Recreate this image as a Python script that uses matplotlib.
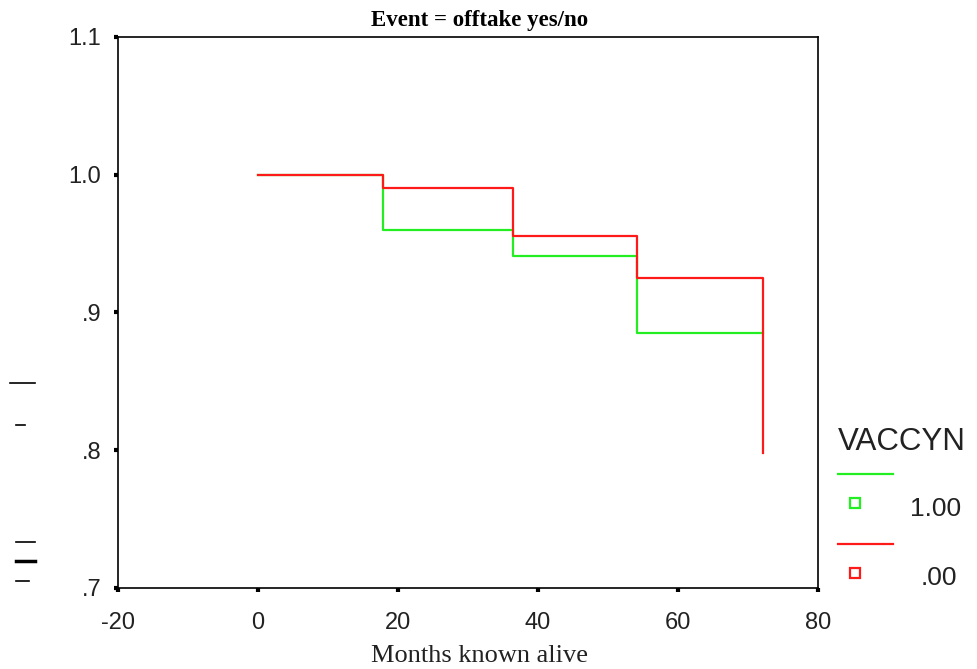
import matplotlib.pyplot as plt
from matplotlib.lines import Line2D

# survival step functions, VACCYN groups
months_1 = [0, 17.9, 36.4, 54.1, 72.1]
surv_1 = [1.0, 0.960, 0.941, 0.885, 0.885]
months_0 = [0, 17.9, 36.4, 54.1, 72.1]
surv_0 = [1.0, 0.9905, 0.9555, 0.925, 0.798]

groups = ["1.00", ".00"]
colors = ["#22ee22", "#ff1a1a"]

xticks = [-20, 0, 20, 40, 60, 80]
yticks = [0.7, 0.8, 0.9, 1.0, 1.1]
ytick_labels = [".7", ".8", ".9", "1.0", "1.1"]

fig = plt.figure(figsize=(9.78, 6.69), dpi=100)
ax = fig.add_axes([0.1207, 0.1211, 0.7157, 0.8236])

ax.plot(months_1, surv_1, drawstyle="steps-post", color=colors[0], lw=1.6)
ax.plot(months_0, surv_0, drawstyle="steps-post", color=colors[1], lw=1.6)

ax.set_xlim(-20, 80)
ax.set_ylim(0.7, 1.1)
ax.set_xticks(xticks)
ax.set_xticklabels([str(t) for t in xticks])
ax.set_yticks(yticks)
ax.set_yticklabels(ytick_labels)
for s in ax.spines.values():
    s.set_linewidth(1.2)
    s.set_color("black")
ax.tick_params(direction="out", length=3, width=3, labelsize=17,
               labelfontfamily="Liberation Sans", colors="black")
ax.tick_params(axis="x", pad=14, labelcolor="#222222")
ax.tick_params(axis="y", pad=9, labelcolor="#222222")

ax.set_title("Event = offtake yes/no", fontsize=16.5, fontweight="bold",
             family="Liberation Serif", pad=8, x=0.517)
ax.set_xlabel("Months known alive", fontsize=19, family="Liberation Serif",
              labelpad=8, color="#222222", x=0.517)

# legend drawn outside the plot box
fig.text(0.857, 0.327, "VACCYN", fontsize=22.5, family="Liberation Sans",
         color="#222222")
for i, (lab, c) in enumerate(zip(groups, colors)):
    yl = 0.291 - i * 0.1035
    fig.add_artist(Line2D([0.857, 0.913], [yl, yl], color=c, lw=1.6,
                          transform=fig.transFigure))
    fig.add_artist(Line2D([0.874], [yl - 0.0435], marker="s", ms=7,
                          mfc="white", mec=c, mew=1.6, ls="none",
                          transform=fig.transFigure))
    fig.text(0.93 + (0.011 if lab.startswith(".") else 0), yl - 0.062, lab,
             fontsize=19, family="Liberation Sans", color="#222222")

# stray dashes along the left edge
for x0, x1, y, w in [(10, 35, 383, 1.2), (16, 25, 425, 1.2),
                     (16, 35, 542, 1.2), (16, 35, 561, 2.5), (16, 29, 581, 1.2)]:
    fig.add_artist(Line2D([x0 / 978, x1 / 978], [1 - y / 669, 1 - y / 669],
                          color="black", lw=w, transform=fig.transFigure))

fig.savefig("out.png", dpi=100)
